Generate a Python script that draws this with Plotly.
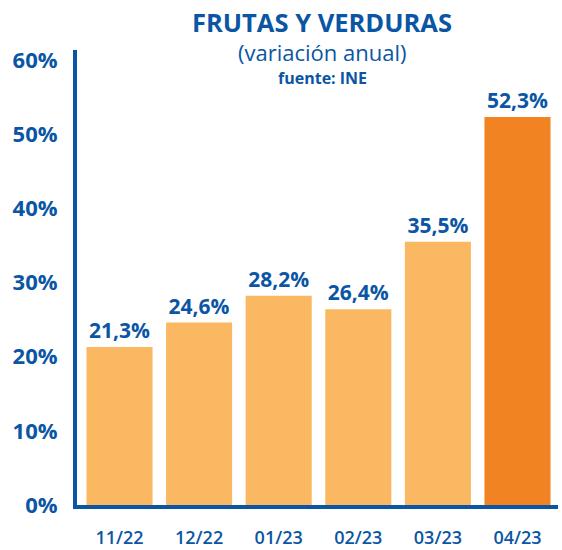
import plotly.graph_objects as go

categories = ["11/22", "12/22", "01/23", "02/23", "03/23", "04/23"]
values = [21.3, 24.6, 28.2, 26.4, 35.5, 52.3]
value_labels = ["21,3%", "24,6%", "28,2%", "26,4%", "35,5%", "52,3%"]
tick_vals = [0, 10, 20, 30, 40, 50, 60]
tick_text = ["0%", "10%", "20%", "30%", "40%", "50%", "60%"]

BLUE = "#0B56A4"
LIGHT = "#FBB862"
DARK = "#F28322"
colors = [LIGHT] * 5 + [DARK]
FONT = "Open Sans"

L, R, T, B = 77, 4, 50, 45
W, H = 562, 550
PW, PH = W - L - R, H - T - B

fig = go.Figure(go.Bar(
    x=categories, y=values,
    marker=dict(color=colors, line=dict(width=0)),
    text=value_labels, textposition="outside", cliponaxis=False,
    textfont=dict(family=FONT, size=21, color=BLUE, weight=700),
    width=0.83,
))

fig.update_layout(
    width=W, height=H,
    margin=dict(l=L, r=R, t=T, b=B, autoexpand=False),
    plot_bgcolor="white", paper_bgcolor="white",
    showlegend=False,
    xaxis=dict(
        range=[-0.534, 5.509], showgrid=False, zeroline=False, automargin=False,
        showline=True, linecolor=BLUE, linewidth=4,
        ticks="", ticklabelstandoff=13,
        tickfont=dict(family=FONT, size=18, color=BLUE, weight=600),
    ),
    yaxis=dict(
        range=[0, 61.35], tickvals=tick_vals, ticktext=tick_text,
        showgrid=False, zeroline=False, automargin=False,
        showline=True, linecolor=BLUE, linewidth=4,
        ticks="", ticklabelstandoff=11,
        tickfont=dict(family=FONT, size=22, color=BLUE, weight=700),
    ),
)

anns = [
    dict(text="FRUTAS Y VERDURAS", y=22, size=25.5, weight=700),
    dict(text="(variación anual)", y=52, size=22, weight=400),
    dict(text="fuente: INE", y=78, size=16, weight=700),
]
for a in anns:
    fig.add_annotation(
        text=a["text"], x=(322 - L) / PW, xref="paper",
        y=1 + (T - a["y"]) / PH, yref="paper",
        xanchor="center", yanchor="middle", showarrow=False,
        font=dict(family=FONT, size=a["size"], color=BLUE, weight=a["weight"]),
    )

fig.write_html(
    "out.html",
    config={"displayModeBar": False},
    post_script="document.body.style.margin='0px';document.body.style.overflow='hidden';",
)
